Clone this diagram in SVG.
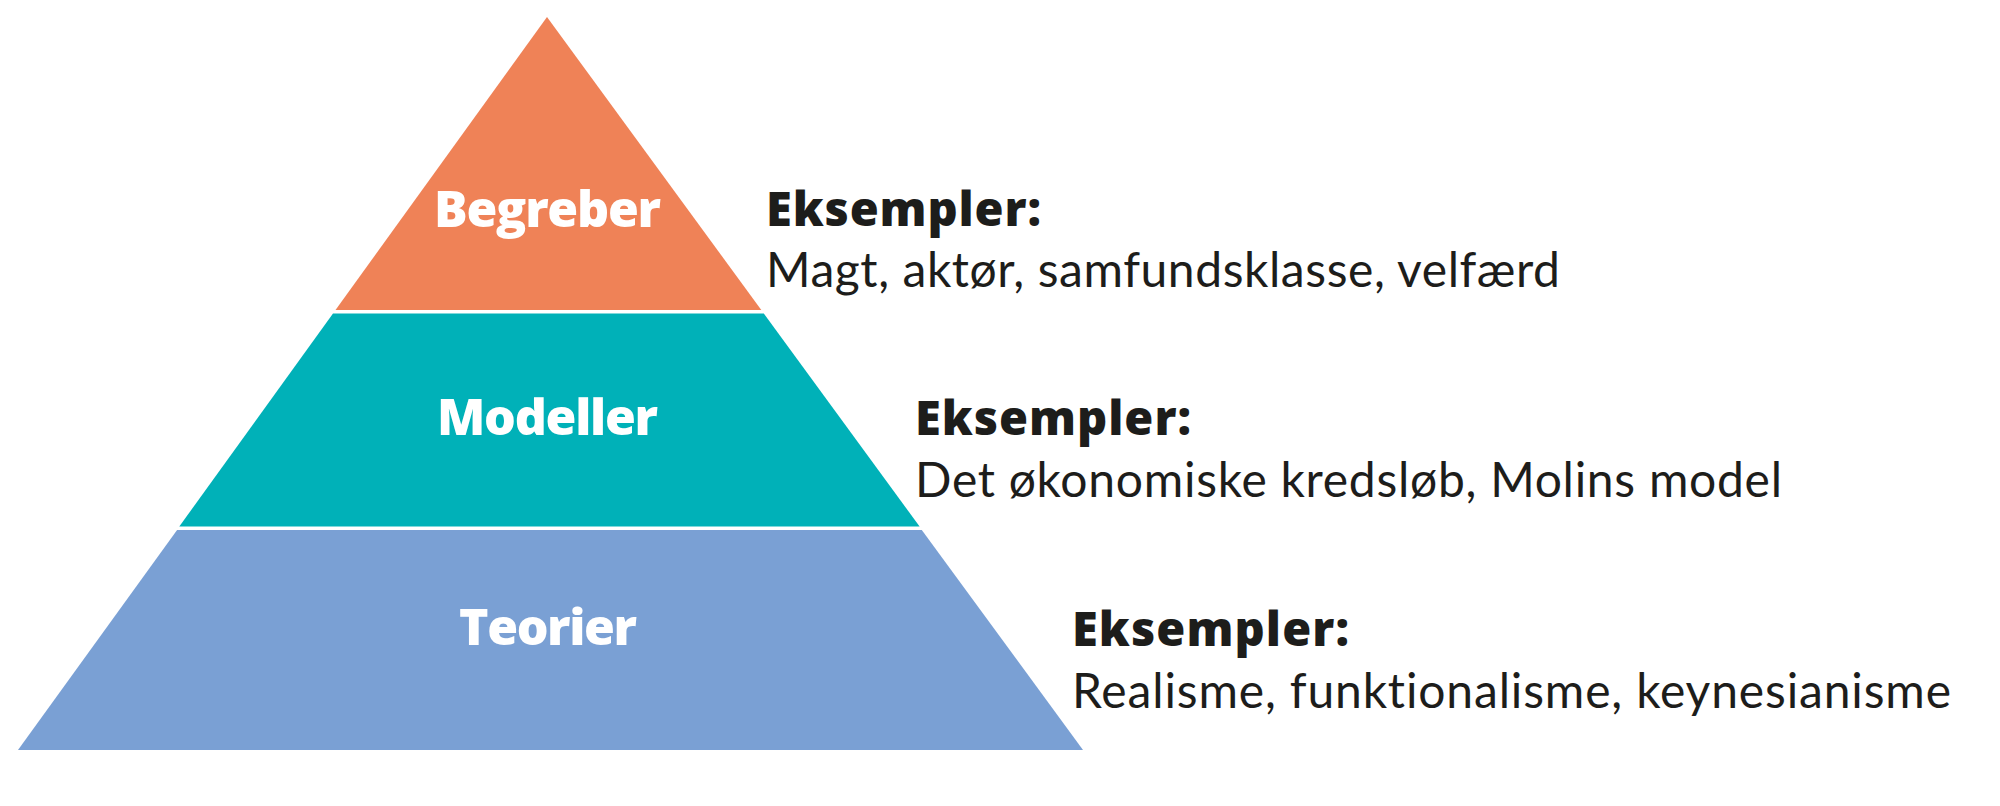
<svg xmlns="http://www.w3.org/2000/svg" width="2000" height="806" viewBox="0 0 2000 806">
  <style>
    .tier-label { font-family: "Open Sans", "Noto Sans", "Liberation Sans", sans-serif; font-weight: 800; font-size: 50px; fill: #ffffff; text-anchor: middle; }
    .ex-head { font-family: "Open Sans", "Noto Sans", "Liberation Sans", sans-serif; font-weight: 800; font-size: 47px; fill: #1d1d1b; }
    .ex-body { font-family: "Lato", "Open Sans", "Liberation Sans", sans-serif; font-weight: 400; font-size: 48px; fill: #1d1d1b; font-variant-ligatures: none; }
  </style>
  <rect width="2000" height="806" fill="#ffffff"/>
  <g id="begreber">
    <polygon points="547,17 761.3,310 335.5,310" fill="#EF8257"/>
    <text class="tier-label" x="547.5" y="227" textLength="227">Begreber</text>
    <text class="ex-head" x="766" y="226" textLength="275">Eksempler:</text>
    <text class="ex-body" x="766" y="287" textLength="794">Magt, aktør, samfundsklasse, velfærd</text>
  </g>
  <g id="modeller">
    <polygon points="333,313.5 763.8,313.5 919.6,526.5 179.3,526.5" fill="#00B1B8"/>
    <text class="tier-label" x="547.5" y="435" textLength="221">Modeller</text>
    <text class="ex-head" x="915" y="435" textLength="276">Eksempler:</text>
    <text class="ex-body" x="915" y="497" textLength="867">Det økonomiske kredsløb, Molins model</text>
  </g>
  <g id="teorier">
    <polygon points="177.1,530 921.8,530 1083,750 18,750" fill="#7AA0D4"/>
    <text class="tier-label" x="548" y="645" textLength="178">Teorier</text>
    <text class="ex-head" x="1072" y="646" textLength="277">Eksempler:</text>
    <text class="ex-body" x="1072" y="708" textLength="879">Realisme, funktionalisme, keynesianisme</text>
  </g>
  <g id="connectors"/>
</svg>
